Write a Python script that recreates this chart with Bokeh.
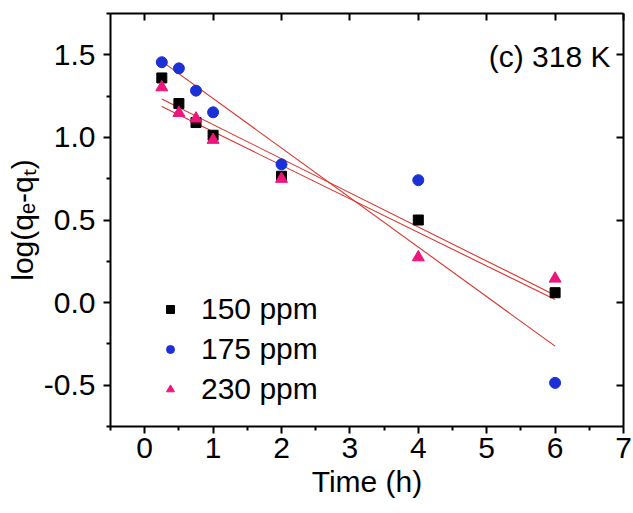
import numpy as np
from bokeh.plotting import figure
from bokeh.models import (Range1d, LinearAxis, Legend, LegendItem, Label,
                          FixedTicker, PrintfTickFormatter)
from bokeh.embed import file_html
from bokeh.resources import INLINE

# ---- data ----
time_h = [0.25, 0.5, 0.75, 1.0, 2.0, 4.0, 6.0]
y_150ppm = [1.360, 1.205, 1.090, 1.013, 0.765, 0.500, 0.060]
y_175ppm = [1.455, 1.418, 1.283, 1.152, 0.837, 0.741, -0.486]
y_230ppm = [1.303, 1.148, 1.114, 0.985, 0.749, 0.274, 0.145]
series_labels = ["150 ppm", "175 ppm", "230 ppm"]
x_ticks = [0, 1, 2, 3, 4, 5, 6, 7]
x_minor = [-0.5, 0.5, 1.5, 2.5, 3.5, 4.5, 5.5, 6.5]
y_ticks = [-0.5, 0.0, 0.5, 1.0, 1.5]
y_minor = [-0.75, -0.25, 0.25, 0.75, 1.25, 1.75]
annotation = "(c) 318 K"

FONT = "Liberation Sans"
FS = "30px"

p = figure(width=633, height=513, output_backend="svg", toolbar_location=None,
           x_range=Range1d(-0.5, 7), y_range=Range1d(-0.75, 1.75),
           min_border_left=110, min_border_right=10, min_border_top=13,
           min_border_bottom=87, x_axis_label="Time (h)",
           y_axis_label="log(qₑ-qₜ)")
p.xgrid.visible = False
p.ygrid.visible = False
p.outline_line_color = None
p.background_fill_color = "white"
p.border_fill_color = "white"

for ax in (p.xaxis[0], p.yaxis[0]):
    ax.axis_line_width = 2
    ax.major_tick_line_width = 2
    ax.minor_tick_line_width = 2
    ax.major_tick_out = 7
    ax.major_tick_in = 0
    ax.minor_tick_out = 4
    ax.minor_tick_in = 0
    ax.major_label_text_font = FONT
    ax.major_label_text_font_size = FS
    ax.major_label_text_color = "black"
    ax.axis_label_text_font = FONT
    ax.axis_label_text_font_size = FS
    ax.axis_label_text_font_style = "normal"
    ax.axis_label_text_color = "black"

p.xaxis[0].ticker = FixedTicker(ticks=x_ticks, minor_ticks=x_minor)
p.yaxis[0].ticker = FixedTicker(ticks=y_ticks, minor_ticks=y_minor)
p.yaxis[0].formatter = PrintfTickFormatter(format="%.1f")
p.xaxis[0].major_label_standoff = 4
p.yaxis[0].major_label_standoff = 8
p.xaxis[0].axis_label_standoff = 4
p.yaxis[0].axis_label_standoff = 2

# mirrored axes with inward ticks, no labels
top = LinearAxis(ticker=FixedTicker(ticks=x_ticks, minor_ticks=[]))
right = LinearAxis(ticker=FixedTicker(ticks=y_ticks, minor_ticks=[]))
for ax in (top, right):
    ax.axis_line_width = 2
    ax.major_tick_line_width = 2
    ax.major_tick_in = 7
    ax.major_tick_out = 0
    ax.minor_tick_in = 0
    ax.minor_tick_out = 0
    ax.major_label_standoff = 0
    ax.major_label_text_color = None
    ax.major_label_text_font_size = "2px"
p.add_layout(top, "above")
p.add_layout(right, "right")

# fitted lines (least-squares on each series)
tx = np.array(time_h)
xs_fit = np.array([tx.min(), tx.max()])
for ys in (y_150ppm, y_175ppm, y_230ppm):
    m, b = np.polyfit(tx, np.array(ys), 1)
    p.line(xs_fit, m * xs_fit + b, line_color="#d8352c", line_width=1.1)

r1 = p.scatter(time_h, y_150ppm, marker="square", size=10, color="black")
r2 = p.scatter(time_h, y_175ppm, marker="circle", size=11, color="#1b30d6")
r3 = p.scatter(time_h, y_230ppm, marker="triangle", size=12, color="#ee157c")

legend = Legend(items=[LegendItem(label=series_labels[0], renderers=[r1]),
                       LegendItem(label=series_labels[1], renderers=[r2]),
                       LegendItem(label=series_labels[2], renderers=[r3])],
                location=(50, 19), border_line_color=None,
                background_fill_alpha=0, padding=0, margin=0, spacing=4,
                label_height=36, glyph_height=36, glyph_width=20,
                label_standoff=21, label_text_font=FONT,
                label_text_font_size=FS, label_text_color="black")
p.add_layout(legend)

p.add_layout(Label(x=6.81, y=1.49, text=annotation, text_align="right",
                   text_baseline="alphabetic", text_font=FONT,
                   text_font_size=FS, text_color="black"))

open("out.html", "w").write(file_html(p, INLINE))
